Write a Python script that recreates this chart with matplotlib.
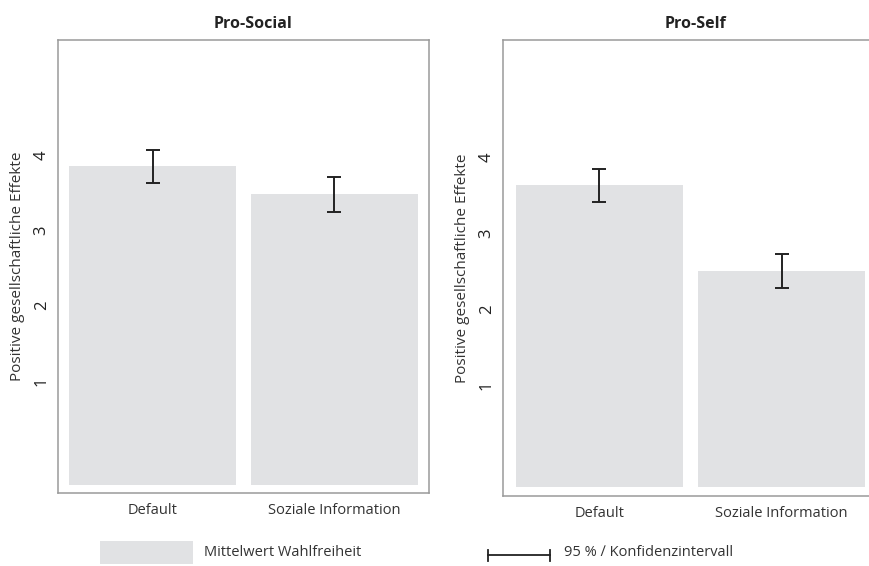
import matplotlib
matplotlib.use("Agg")
import matplotlib.pyplot as plt
from matplotlib.patches import Rectangle
from matplotlib.lines import Line2D

plt.rcParams['font.family'] = ['Open Sans', 'DejaVu Sans']

categories = ["Default", "Soziale Information"]
panel_titles = ["Pro-Social", "Pro-Self"]
means_prosocial = [3.85, 3.48]
ci_low_prosocial = [3.63, 3.24]
ci_high_prosocial = [4.07, 3.71]
means_proself = [3.63, 2.50]
ci_low_proself = [3.41, 2.28]
ci_high_proself = [3.84, 2.72]
yticks = [1, 2, 3, 4]
ylabel = "Positive gesellschaftliche Effekte"
legend_bar = "Mittelwert Wahlfreiheit"
legend_err = "95 % \u2215 Konfidenzintervall"

W, H = 870, 566
fig = plt.figure(figsize=(W / 100, H / 100), dpi=100)

BAR_COLOR = "#e1e2e4"
FRAME = "#9a9a9a"
ERR = "#222222"

def fx(px):
    return px / W

def fy(py):
    return 1 - py / H

panels = [
    dict(rect=(58, 40, 429, 493), ylim=(-0.49, 5.53), base=-0.39, xlim=(-0.52, 1.52),
         means=means_prosocial, lo=ci_low_prosocial, hi=ci_high_prosocial, tx=0.526),
    dict(rect=(503, 40, 889, 496), ylim=(-0.46, 5.54), base=-0.34, xlim=(-0.53, 1.59),
         means=means_proself, lo=ci_low_proself, hi=ci_high_proself, tx=0.5),
]

for title, p in zip(panel_titles, panels):
    l, t, r, b = p["rect"]
    ax = fig.add_axes([fx(l), fy(b), fx(r - l), (b - t) / H])
    x = list(range(len(categories)))
    heights = [m - p["base"] for m in p["means"]]
    ax.bar(x, heights, bottom=p["base"], width=0.92, color=BAR_COLOR, zorder=1)
    yerr = [[m - lo for m, lo in zip(p["means"], p["lo"])],
            [hi - m for m, hi in zip(p["means"], p["hi"])]]
    ax.errorbar(x, p["means"], yerr=yerr, fmt="none", ecolor=ERR, elinewidth=1.4,
                capsize=5, capthick=1.4, zorder=3)
    ax.set_xlim(*p["xlim"])
    ax.set_ylim(*p["ylim"])
    ax.set_xticks(x)
    ax.set_xticklabels(categories, fontsize=10.5, color="#333333")
    ax.set_yticks(yticks)
    ax.set_yticklabels([str(v) for v in yticks], rotation=90, va="center",
                       fontsize=12, color="#222222")
    ax.tick_params(length=0, axis="both")
    ax.tick_params(axis="y", pad=6)
    ax.tick_params(axis="x", pad=7)
    ax.set_ylabel(ylabel, fontsize=11, color="#333333", labelpad=6)
    for s in ax.spines.values():
        s.set_color(FRAME)
        s.set_linewidth(1.1)
    ax.set_title(title, fontsize=11.5, fontweight="bold", color="#222222", x=p["tx"], pad=8.5)

# Legend: bar patch
fig.add_artist(Rectangle((fx(100), fy(564)), fx(93), (564 - 541) / H,
                         transform=fig.transFigure, facecolor=BAR_COLOR, edgecolor="none"))
fig.text(fx(204), fy(552), legend_bar, fontsize=10.5, color="#333333", va="center", ha="left")

# Legend: error bar symbol
yl = fy(555)
fig.add_artist(Line2D([fx(488), fx(550)], [yl, yl], transform=fig.transFigure, color=ERR, lw=1.3))
for xe in (488, 550):
    fig.add_artist(Line2D([fx(xe), fx(xe)], [fy(550), fy(561)], transform=fig.transFigure, color=ERR, lw=1.3))
fig.text(fx(564), fy(553), legend_err, fontsize=10.5, color="#333333", va="center", ha="left")

fig.savefig("out.png", dpi=100)
